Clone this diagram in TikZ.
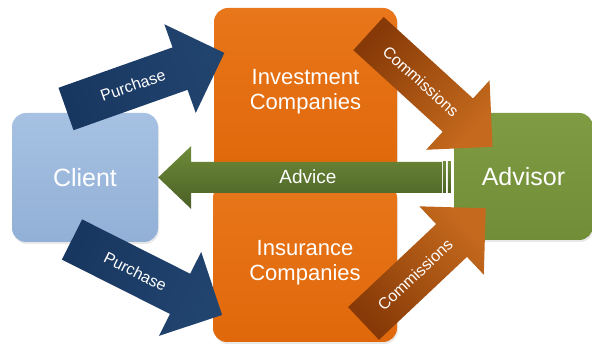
\documentclass[tikz,border=0pt]{standalone}
\usepackage{fontspec}
\setmainfont{Liberation Sans}
\usetikzlibrary{shapes,arrows,calc,shadows}
\definecolor{clienttop}{HTML}{A6C1E2}
\definecolor{clientbot}{HTML}{92B0D6}
\definecolor{orangetop}{HTML}{E8761A}
\definecolor{orangebot}{HTML}{E0680A}
\definecolor{advtop}{HTML}{7F9C43}
\definecolor{advbot}{HTML}{718D37}
\definecolor{navydark}{HTML}{183760}
\definecolor{navylight}{HTML}{21446F}
\definecolor{commdark}{HTML}{873A07}
\definecolor{commlight}{HTML}{C4691D}
\definecolor{advicetop}{HTML}{6E8C39}
\definecolor{advicebot}{HTML}{4A5F26}
\tikzset{%
pics/.cd,
blockarrow/.style args={#1#2#3#4}{
    code={\begin{scope}[rotate=#4]
             \shade[bottom color=#1dark, top color=#1light, shading angle=#4-90]
                (0,-22.5) -- (121,-22.5) -- (121,-47) -- (168,0) -- (121,47) -- (121,22.5) -- (0,22.5) -- cycle;
             \node[transform shape,arrowlabel] (#3) at (71,0) {#2};
          \end{scope}
    }
},
}
\tikzset{%
boxnode/.style={rounded corners=14pt, text=white, align=center, inner sep=0pt,
    drop shadow={opacity=0.18, shadow xshift=1pt, shadow yshift=-2pt}},
arrowlabel/.style={text=white, font=\fontsize{16}{18}\selectfont},
advicefill/.style={top color=advicetop, bottom color=advicebot},
}
\begin{document}
\begin{tikzpicture}[x=1pt,y=1pt]
        \useasboundingbox (0,0) rectangle (592,345);
        % the four boxes
        \node[boxnode, top color=clienttop, bottom color=clientbot, minimum width=146pt, minimum height=129pt,
              font=\fontsize{25}{28}\selectfont] (client) at (85,167.5) {Client};
        \node[boxnode, top color=orangetop, bottom color=orangebot, minimum width=183pt, minimum height=167pt,
              font=\fontsize{22}{25}\selectfont] (invest) at (305.5,253.5) {Investment\\Companies};
        \node[boxnode, top color=orangetop, bottom color=orangebot, minimum width=184pt, minimum height=158pt,
              font=\fontsize{22}{25}\selectfont] (insure) at (305,82) {Insurance\\Companies};
        \node[boxnode, top color=advtop, bottom color=advbot, minimum width=139pt, minimum height=127pt,
              font=\fontsize{25}{28}\selectfont] (advisor) at (523.5,168.5) {Advisor};
        % advice, from advisor back to client
        \coordinate (shaftend) at ([xshift=-12pt]advisor.west);
        \shade[advicefill] (client.east) -- ++(33,31.5) -- ++(0,-16) coordinate (ht) -- (ht -| shaftend)
              -- ++(0,-31) coordinate (hb) -- (hb -| ht) -- ++(0,-16) -- cycle;
        \coordinate (se1) at (ht -| shaftend);
        \coordinate (se2) at (hb -| shaftend);
        \foreach \d in {1,6}
            \shade[advicefill] ($(se1)+(\d,0)$) rectangle ($(se2)+(\d+3,0)$);
        \node[text=white, font=\fontsize{19}{21}\selectfont] (advtext) at ($(client.east)!0.5!(shaftend)+(8,0)$) {Advice};
        % purchases and commissions
        \pic at (66,236) {blockarrow={navy}{Purchase}{pur1}{19.5}};
        \pic at (72,105.5) {blockarrow={navy}{Purchase}{pur2}{-26.7}};
        \pic at (368.5,311.5) {blockarrow={comm}{Commissions}{com1}{-42.4}};
        \pic at (363.5,21.5) {blockarrow={comm}{Commissions}{com2}{43.3}};
\end{tikzpicture}
\end{document}
